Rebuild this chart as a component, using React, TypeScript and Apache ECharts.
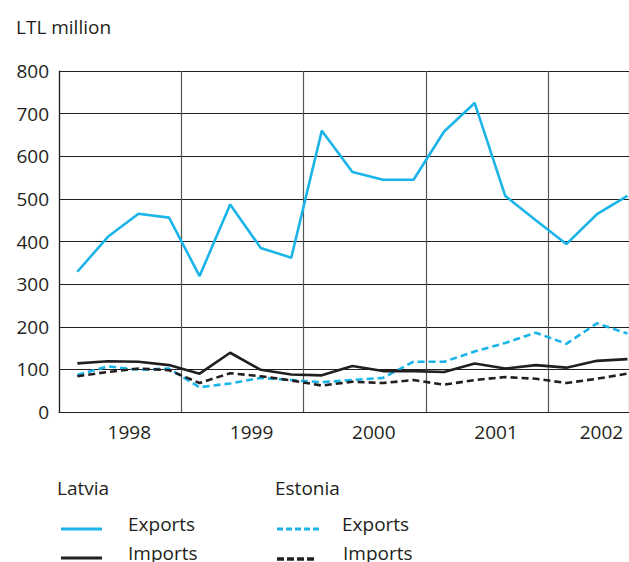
import React, { useEffect, useRef } from "react";
import * as echarts from "echarts";

const years = ["1998", "1999", "2000", "2001", "2002"];
// quarterly values, 1998 Q1 – 2002 Q3 (LTL million)
const latviaExports = [329, 411, 465, 456, 319, 487, 385, 362, 660, 563, 545, 545, 658, 725, 507, 450, 394, 464, 507];
const latviaImports = [114, 119, 118, 110, 90, 139, 99, 88, 86, 108, 96, 96, 94, 114, 102, 110, 104, 120, 124];
const estoniaExports = [87, 107, 99, 102, 58, 67, 80, 75, 70, 75, 80, 118, 118, 142, 162, 186, 160, 208, 184];
const estoniaImports = [84, 94, 102, 98, 68, 91, 84, 74, 62, 71, 68, 75, 64, 75, 82, 78, 68, 78, 90];
const yTicks = [0, 100, 200, 300, 400, 500, 600, 700, 800];

const FONT = "'Open Sans', sans-serif";
const CYAN = "#1AB4E8";
const BLACK = "#231F20";
const QUARTER_OFFSET = 0.6;
const X_MAX = 18.65;

const toPoints = (vals: number[]) => vals.map((v, i) => [i + QUARTER_OFFSET, v]);

export default function App() {
  const ref = useRef<HTMLDivElement>(null);
  useEffect(() => {
    document.body.style.margin = "0";
    const chart = echarts.init(ref.current!, null, { renderer: "svg" });
    const labelPos = years.map((_, k) => Math.min(k * 4 + 2.3, X_MAX - 0.9));
    const textStyle = { fontFamily: FONT, fontSize: 19, fill: BLACK };
    chart.setOption({
      animation: false,
      textStyle: { fontFamily: FONT },
      grid: { left: 59, top: 71, right: 0, bottom: 150 },
      xAxis: {
        type: "value",
        min: 0,
        max: X_MAX,
        interval: 4,
        axisLine: { show: true, lineStyle: { color: BLACK, width: 1.2 } },
        axisTick: { show: false },
        splitLine: { show: true, lineStyle: { color: "#555", width: 1.2 } },
        axisLabel: {
          customValues: labelPos,
          margin: 10,
          fontFamily: FONT,
          fontSize: 19,
          color: BLACK,
          formatter: (v: number) => years[Math.floor(v / 4)] ?? "",
        },
      },
      yAxis: {
        type: "value",
        min: yTicks[0],
        max: yTicks[yTicks.length - 1],
        interval: 100,
        axisLine: { show: true, lineStyle: { color: BLACK, width: 1.2 } },
        axisTick: { show: false },
        splitLine: { show: true, lineStyle: { color: BLACK, width: 1.2 } },
        axisLabel: { margin: 10, fontFamily: FONT, fontSize: 19, color: BLACK },
      },
      series: [
        {
          type: "line", name: "Latvia Exports", data: toPoints(latviaExports), symbol: "none",
          lineStyle: { color: CYAN, width: 2.6 },
        },
        {
          type: "line", name: "Estonia Exports", data: toPoints(estoniaExports), symbol: "none",
          lineStyle: { color: CYAN, width: 2.6, type: [7, 4] },
        },
        {
          type: "line", name: "Latvia Imports", data: toPoints(latviaImports), symbol: "none",
          lineStyle: { color: BLACK, width: 2.6 },
        },
        {
          type: "line", name: "Estonia Imports", data: toPoints(estoniaImports), symbol: "none",
          lineStyle: { color: BLACK, width: 2.6, type: [7, 4] },
        },
      ],
      graphic: [
        { type: "text", x: 16, y: 27, style: { ...textStyle, text: "LTL million", verticalAlign: "middle" } },
        { type: "text", x: 57, y: 488, style: { ...textStyle, text: "Latvia", verticalAlign: "middle" } },
        { type: "text", x: 275, y: 488, style: { ...textStyle, text: "Estonia", verticalAlign: "middle" } },
        { type: "line", shape: { x1: 61, y1: 529, x2: 102, y2: 529 }, style: { stroke: CYAN, lineWidth: 3 } },
        { type: "line", shape: { x1: 61, y1: 558, x2: 102, y2: 558 }, style: { stroke: BLACK, lineWidth: 3 } },
        { type: "line", shape: { x1: 277, y1: 529, x2: 320, y2: 529 }, style: { stroke: CYAN, lineWidth: 3, lineDash: [6, 3] } },
        { type: "line", shape: { x1: 277, y1: 559, x2: 315, y2: 559 }, style: { stroke: BLACK, lineWidth: 3.5, lineDash: [7, 3] } },
        { type: "text", x: 128, y: 524, style: { ...textStyle, text: "Exports", verticalAlign: "middle" } },
        { type: "text", x: 128, y: 553, style: { ...textStyle, text: "Imports", verticalAlign: "middle" } },
        { type: "text", x: 342, y: 524, style: { ...textStyle, text: "Exports", verticalAlign: "middle" } },
        { type: "text", x: 343, y: 553, style: { ...textStyle, text: "Imports", verticalAlign: "middle" } },
      ],
    });
    return () => chart.dispose();
  }, []);
  return <div ref={ref} style={{ position: "absolute", left: 0, top: 0, width: 629, height: 562 }} />;
}
